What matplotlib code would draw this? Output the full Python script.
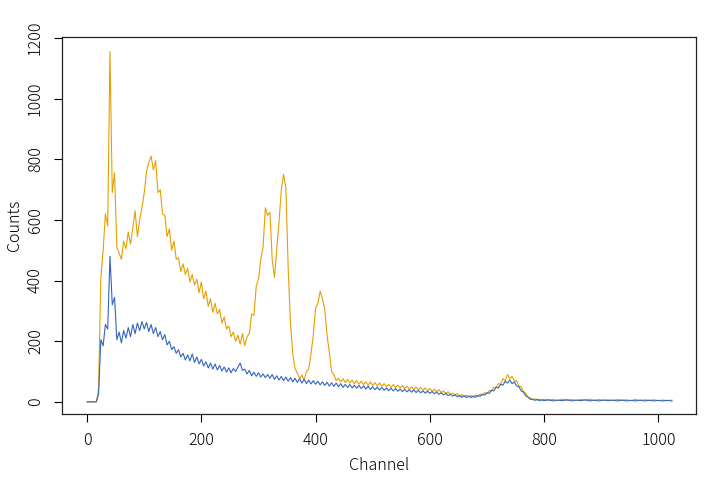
import matplotlib
matplotlib.use("Agg")
import matplotlib.pyplot as plt

plt.rcParams['font.family'] = ['Noto Sans CJK JP', 'DejaVu Sans']
plt.rcParams['font.weight'] = 'light'
plt.rcParams['axes.labelweight'] = 'light'

# channels: every 4 up to 796, then every 8 in the flat tail
channels = list(range(0, 800, 4)) + list(range(800, 1025, 8))

orange_counts = [
    0, 0, 0, 0, 0, 40, 410, 500, 620, 580,
    1155, 690, 755, 510, 490, 470, 530, 505, 560, 520,
    575, 630, 545, 600, 640, 690, 760, 790, 810, 765,
    795, 690, 700, 620, 615, 545, 570, 500, 530, 470,
    475, 430, 455, 420, 440, 395, 420, 385, 405, 360,
    395, 340, 365, 315, 340, 295, 325, 290, 305, 260,
    280, 240, 250, 215, 230, 200, 220, 190, 225, 185,
    215, 225, 290, 285, 380, 405, 470, 510, 640, 615,
    625, 470, 410, 505, 595, 700, 750, 705, 440, 260,
    160, 110, 95, 76, 88, 72, 100, 108, 160, 220,
    310, 325, 365, 340, 305, 220, 165, 100, 90, 70,
    78, 66, 76, 64, 74, 62, 72, 60, 70, 58,
    68, 57, 66, 55, 66, 54, 63, 53, 62, 51,
    60, 50, 58, 48, 57, 47, 55, 46, 54, 44,
    52, 42, 50, 41, 49, 40, 47, 38, 46, 37,
    44, 35, 42, 33, 40, 31, 36, 28, 33, 25,
    29, 22, 27, 19, 24, 18, 22, 17, 21, 16,
    23, 19, 26, 23, 30, 28, 37, 36, 48, 47,
    60, 58, 76, 70, 90, 76, 84, 68, 70, 52,
    50, 34, 28, 15, 13, 7, 10, 6, 9, 5,
    9, 5, 8, 4, 9, 5, 8, 4, 8, 5, 9, 4, 8, 5, 7,
    4, 8, 5, 7, 4, 8, 4, 7, 5, 7, 4, 6, 4, 6,
]

blue_counts = [
    0, 0, 0, 0, 0, 25, 205, 185, 255, 240,
    480, 320, 345, 205, 230, 195, 235, 210, 245, 215,
    255, 225, 260, 235, 265, 240, 262, 232, 255, 225,
    245, 215, 232, 205, 222, 188, 200, 172, 182, 160,
    172, 148, 160, 138, 155, 135, 158, 130, 148, 125,
    140, 118, 132, 112, 128, 108, 125, 105, 120, 102,
    115, 98, 112, 96, 110, 100, 115, 128, 104, 108,
    92, 104, 86, 98, 84, 96, 82, 92, 80, 90,
    78, 90, 74, 86, 72, 84, 70, 82, 68, 80,
    66, 78, 64, 76, 62, 74, 60, 72, 59, 70,
    58, 68, 56, 66, 54, 65, 52, 63, 51, 62,
    50, 60, 48, 58, 47, 57, 46, 55, 45, 54,
    44, 53, 42, 52, 41, 50, 40, 49, 39, 47,
    38, 46, 37, 45, 36, 44, 35, 42, 34, 41,
    33, 40, 32, 39, 31, 38, 30, 36, 29, 35,
    28, 34, 27, 32, 25, 30, 23, 28, 21, 25,
    19, 23, 17, 21, 15, 20, 14, 19, 14, 19,
    15, 21, 18, 25, 22, 30, 28, 38, 36, 48,
    46, 58, 55, 68, 62, 72, 60, 66, 52, 50,
    36, 32, 20, 16, 8, 9, 5, 8, 4, 7,
    4, 7, 3, 6, 4, 7, 3, 6, 4, 7, 3, 6, 3, 6, 4,
    6, 3, 6, 3, 5, 3, 6, 3, 5, 3, 5, 3, 5, 3,
]

x_ticks = [0, 200, 400, 600, 800, 1000]
y_ticks = [0, 200, 400, 600, 800, 1000, 1200]

fig = plt.figure(figsize=(7.07, 4.79), dpi=100)
ax = fig.add_axes([62 / 707, 1 - 414 / 479, 634 / 707, 377 / 479])

ax.plot(channels, orange_counts, color="#E69F00", lw=0.8)
ax.plot(channels, blue_counts, color="#3366C0", lw=0.8)

ax.set_xlim(-44, 1066)
ax.set_ylim(-40, 1203)
ax.set_xticks(x_ticks)
ax.set_yticks(y_ticks)

for s in ax.spines.values():
    s.set_linewidth(0.9)
    s.set_color("#222222")

ax.tick_params(direction="out", length=6, width=0.8, labelsize=11.5, pad=7)
ax.tick_params(axis="y", labelrotation=90)
for lab in ax.get_yticklabels():
    lab.set_va("center")

ax.set_xlabel("Channel", fontsize=11.5, fontweight="light", labelpad=6)
ax.set_ylabel("Counts", fontsize=11.5, fontweight="light", labelpad=3)

fig.savefig("out.png", dpi=100)
